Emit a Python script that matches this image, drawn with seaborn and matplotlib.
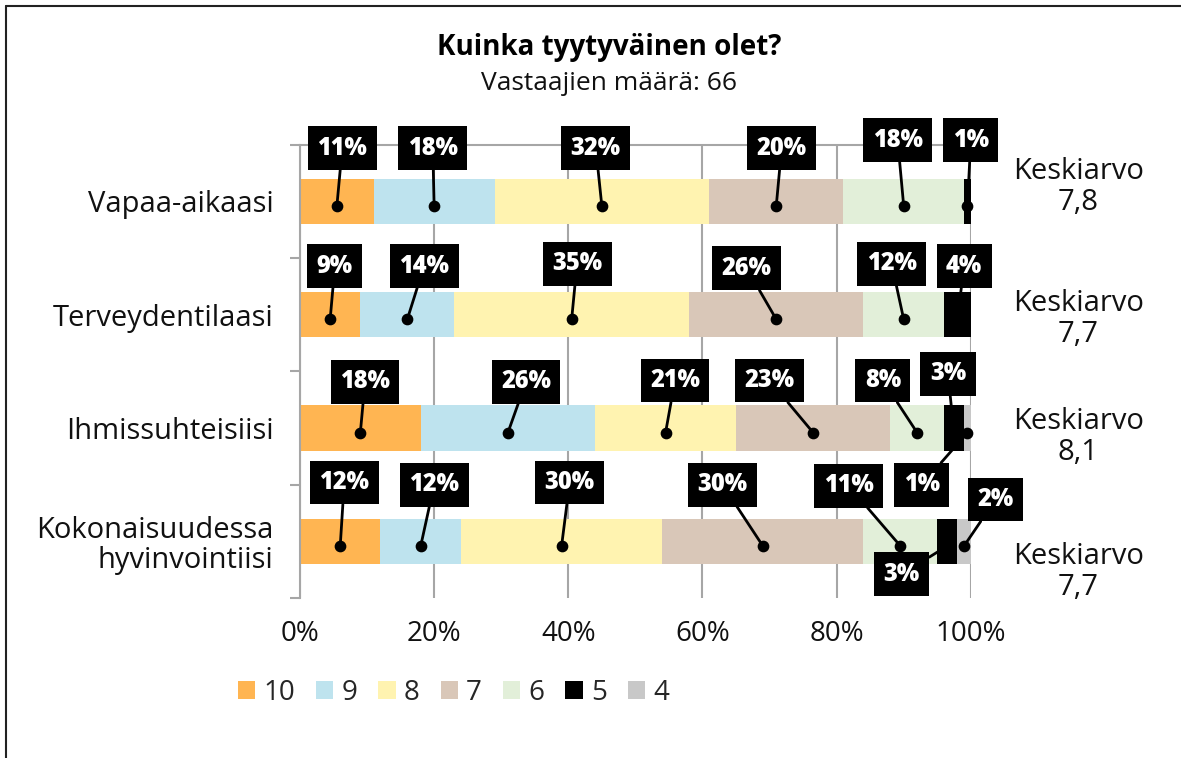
import numpy as np
import seaborn as sns
import matplotlib.pyplot as plt
from matplotlib.patches import Patch
from matplotlib.lines import Line2D

# data
categories = ["Vapaa-aikaasi", "Terveydentilaasi", "Ihmissuhteisiisi",
              "Kokonaisuudessa\nhyvinvointiisi"]
levels = ["10", "9", "8", "7", "6", "5", "4"]
share_10 = [11, 9, 18, 12]
share_9 = [18, 14, 26, 12]
share_8 = [32, 35, 21, 30]
share_7 = [20, 26, 23, 30]
share_6 = [18, 12, 8, 11]
share_5 = [1, 4, 3, 3]
share_4 = [0, 0, 1, 2]
averages = ["7,8", "7,7", "8,1", "7,7"]
respondents = 66

colors = ["#FFB552", "#BEE3EE", "#FFF3B0", "#D9C7B8", "#E2EFD9", "#000000", "#C8C8C8"]

# where the callout boxes sit (x in %, y offset from the bar centre)
label_x = [[6.3, 19.8, 44.1, 71.8, 89.1, 100.0, None],
           [5.2, 18.5, 41.3, 66.6, 88.2, 99.0, None],
           [9.7, 33.7, 55.9, 70.0, 86.9, 96.6, 92.7],
           [6.6, 20.0, 40.2, 63.0, 81.8, 89.7, 103.7]]
label_dy = [[-0.47, -0.47, -0.47, -0.47, -0.54, -0.54, None],
            [-0.43, -0.43, -0.45, -0.41, -0.45, -0.43, None],
            [-0.41, -0.41, -0.42, -0.42, -0.42, -0.48, 0.50],
            [-0.52, -0.50, -0.52, -0.50, -0.49, 0.29, -0.37]]
avg_dy = [-0.13, 0.04, 0.08, 0.27]

sns.set_theme(style="white")
plt.rcParams["font.family"] = ["Open Sans", "DejaVu Sans"]

shares = np.array([share_10, share_9, share_8, share_7, share_6, share_5, share_4])
cum = shares.cumsum(axis=0)

fig = plt.figure(figsize=(11.81, 7.58), dpi=100)
ax = fig.add_axes([0.254, 0.211, 0.568, 0.598])

# stacked bars: draw the cumulative totals from the back to the front
for i in range(len(levels) - 1, -1, -1):
    sns.barplot(x=cum[i], y=categories, color=colors[i], width=0.4, saturation=1,
                errorbar=None, orient="h", ax=ax, linewidth=0, zorder=2)

# callouts
for j in range(len(categories)):
    for i in range(len(levels)):
        v = shares[i][j]
        if v == 0 or label_x[j][i] is None:
            continue
        dot_x = cum[i][j] - v / 2
        dot_y = j + 0.04
        ax.annotate(f"{v}%", xy=(dot_x, dot_y), xytext=(label_x[j][i], j + label_dy[j][i]),
                    ha="center", va="center", color="white", fontsize=17, fontweight="heavy",
                    bbox=dict(boxstyle="square,pad=0.4", fc="black", ec="none"),
                    arrowprops=dict(arrowstyle="-", color="black", lw=2, shrinkA=0, shrinkB=0),
                    annotation_clip=False, zorder=5)
        ax.scatter([dot_x], [dot_y], s=55, color="black", zorder=6, clip_on=False)
    ax.text(116, j + avg_dy[j], f"Keskiarvo\n{averages[j]}", ha="center", va="center",
            fontsize=21, color="#111111", linespacing=1.1, clip_on=False)

ax.set_xlim(0, 100)
ax.set_ylim(3.5, -0.5)
ax.set_xticks([0, 20, 40, 60, 80, 100])
ax.set_xticklabels([f"{t}%" for t in [0, 20, 40, 60, 80, 100]])
ax.set_yticks(range(len(categories)))
ax.set_yticklabels(categories, fontsize=21, linespacing=1.05)
ax.set_yticks(np.arange(-0.5, len(categories), 1), minor=True)
ax.set_xlabel("")
ax.set_ylabel("")
ax.xaxis.grid(True, color="#A6A6A6", lw=1.5)
ax.yaxis.grid(False)
ax.set_axisbelow(True)
for side in ["right", "bottom"]:
    ax.spines[side].set_visible(False)
for side in ["left", "top"]:
    ax.spines[side].set_color("#A6A6A6")
    ax.spines[side].set_linewidth(1.5)
ax.tick_params(axis="y", which="major", length=0, pad=19, colors="#111111")
ax.tick_params(axis="y", which="minor", left=True, length=7, width=1.5, color="#A6A6A6")
ax.tick_params(axis="x", length=0, pad=16, labelsize=20, colors="#111111")

handles = [Patch(facecolor=c, edgecolor="none", label=l) for c, l in zip(colors, levels)]
fig.legend(handles=handles, loc="center left", bbox_to_anchor=(238 / 1181, 1 - 693 / 758),
           ncol=7, frameon=False, fontsize=20, handlelength=0.62, handleheight=0.62,
           handletextpad=0.3, columnspacing=0.75, borderaxespad=0, borderpad=0)

fig.text(0.516, 0.937, "Kuinka tyytyväinen olet?", ha="center", va="center",
         fontsize=20, fontweight="bold", color="black")
fig.text(0.516, 0.89, f"Vastaajien määrä: {respondents}", ha="center", va="center",
         fontsize=19, color="#111111")

# outer frame (left and top edges)
fig.add_artist(Line2D([6 / 1181, 6 / 1181], [0, 1 - 6 / 758], color="#222222", lw=1.5,
                      transform=fig.transFigure))
fig.add_artist(Line2D([6 / 1181, 1], [1 - 6 / 758, 1 - 6 / 758], color="#222222", lw=1.5,
                      transform=fig.transFigure))

fig.savefig("out.png", dpi=100)
